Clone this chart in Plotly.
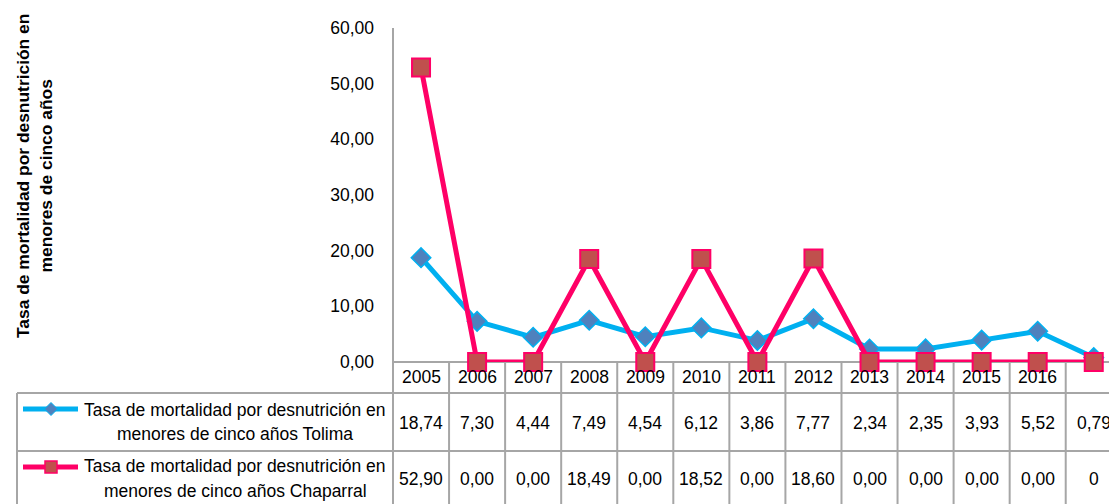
import plotly.graph_objects as go

# ---------------- data ----------------
years = ["2005", "2006", "2007", "2008", "2009", "2010", "2011", "2012",
         "2013", "2014", "2015", "2016", ""]
tolima = [18.74, 7.30, 4.44, 7.49, 4.54, 6.12, 3.86, 7.77, 2.34, 2.35, 3.93, 5.52, 0.79]
chaparral = [52.90, 0.00, 0.00, 18.49, 0.00, 18.52, 0.00, 18.60, 0.00, 0.00, 0.00, 0.00, 0]
series_names = [
    ["Tasa de mortalidad por desnutrición en", "menores de cinco años Tolima"],
    ["Tasa de mortalidad por desnutrición en", "menores de cinco años Chaparral"],
]
y_title = ["Tasa de mortalidad por desnutrición en", "menores de cinco años"]
y_ticks = [0, 10, 20, 30, 40, 50, 60]

# ---------------- geometry ----------------
FW, FH = 1109, 504
L, R, T, B = 393, 0, 28, 362          # plot area in px (B = bottom px)
W = FW - L - R
H = B - T
CW = 56.06                             # column width px
x_range = [-0.5, -0.5 + W / CW]

def xp(px):
    return (px - L) / W

def yp(py):
    return (B - py) / H

def col_edge(k):  # paper x of the left edge of column k
    return (k - 0.5 - x_range[0]) / (x_range[1] - x_range[0])

def fmt(v):
    if isinstance(v, int):
        return str(v)
    return f"{v:.2f}".replace(".", ",")

FONT = "Liberation Sans, Arial, sans-serif"
FS = 17.5
GRID = "#A6A6A6"
BLUE_L, BLUE_M = "#00B0F0", "#4F81BD"
PINK_L, PINK_M = "#FF0066", "#C0504D"

xs = list(range(len(years)))

fig = go.Figure()
fig.add_trace(go.Scatter(
    x=xs, y=tolima, mode="lines+markers", cliponaxis=False,
    line=dict(color=BLUE_L, width=5),
    marker=dict(symbol="diamond", size=15, color=BLUE_M, line=dict(color=BLUE_L, width=1.5)),
    showlegend=False))
fig.add_trace(go.Scatter(
    x=xs, y=chaparral, mode="lines+markers", cliponaxis=False,
    line=dict(color=PINK_L, width=5),
    marker=dict(symbol="square", size=18, color=PINK_M, line=dict(color=PINK_L, width=2)),
    showlegend=False))

shapes = []
def hline(py, x0px, x1px):
    shapes.append(dict(type="line", xref="paper", yref="paper",
                       x0=xp(x0px), x1=xp(x1px), y0=yp(py), y1=yp(py),
                       line=dict(color=GRID, width=2), layer="below"))
def vline_paper(xpaper, py0, py1):
    shapes.append(dict(type="line", xref="paper", yref="paper",
                       x0=xpaper, x1=xpaper, y0=yp(py0), y1=yp(py1),
                       line=dict(color=GRID, width=2), layer="below"))

# table grid
hline(B, L, FW)
hline(393, 17, FW)
hline(451, 17, FW)
vline_paper(xp(17), 393, FH + 2)
vline_paper(0, T, FH + 2)
for k in range(1, len(years)):
    vline_paper(col_edge(k), B, FH + 2)

annotations = []
# y-axis title
annotations.append(dict(xref="paper", yref="paper", x=xp(34), y=yp(176),
                        text="<br>".join(f"<b>{t}</b>" for t in y_title),
                        textangle=-90, showarrow=False,
                        font=dict(family=FONT, size=17.4, color="#000000"),
                        xanchor="center", yanchor="middle", align="center"))
# year row
for i, yr in enumerate(years):
    annotations.append(dict(xref="x", yref="paper", x=i, y=yp(377), text=yr,
                            showarrow=False, font=dict(family=FONT, size=FS, color="#000"),
                            xanchor="center", yanchor="middle"))
# value rows
for row_py, vals in [(423, tolima), (479, chaparral)]:
    for i, v in enumerate(vals):
        annotations.append(dict(xref="x", yref="paper", x=i, y=yp(row_py), text=fmt(v),
                                showarrow=False, font=dict(family=FONT, size=FS, color="#000"),
                                xanchor="center", yanchor="middle"))
# series labels in table
for (l1, l2), (p1, p2) in zip(series_names, [(410, 434), (466, 491)]):
    for txt, py in [(l1, p1), (l2, p2)]:
        annotations.append(dict(xref="paper", yref="paper", x=xp(235), y=yp(py), text=txt,
                                showarrow=False, font=dict(family=FONT, size=FS, color="#000"),
                                xanchor="center", yanchor="middle"))

# legend glyphs
for py, col in [(409, BLUE_L), (467, PINK_L)]:
    shapes.append(dict(type="line", xref="paper", yref="paper",
                       x0=xp(23), x1=xp(78), y0=yp(py), y1=yp(py),
                       line=dict(color=col, width=5)))
# diamond
cx, cy, r = 51, 409, 6.5
shapes.append(dict(type="path", xref="paper", yref="paper",
                   path=f"M {xp(cx-r)} {yp(cy)} L {xp(cx)} {yp(cy-r)} L {xp(cx+r)} {yp(cy)} L {xp(cx)} {yp(cy+r)} Z",
                   fillcolor=BLUE_M, line=dict(color=BLUE_L, width=1)))
# square
cx, cy, r = 51, 467, 6
shapes.append(dict(type="rect", xref="paper", yref="paper",
                   x0=xp(cx-r), x1=xp(cx+r), y0=yp(cy+r), y1=yp(cy-r),
                   fillcolor=PINK_M, line=dict(color=PINK_L, width=1.5)))

fig.update_layout(
    width=FW, height=FH,
    margin=dict(l=L, r=R, t=T, b=FH - B, pad=0),
    paper_bgcolor="white", plot_bgcolor="white",
    separators=",.",
    shapes=shapes, annotations=annotations,
    xaxis=dict(range=x_range, showgrid=False, zeroline=False, showline=False,
               showticklabels=False, ticks=""),
    yaxis=dict(range=[0, 60], tickvals=y_ticks, tickformat=".2f",
               showgrid=False, zeroline=False, showline=False, ticks="",
               ticklabelstandoff=18,
               tickfont=dict(family=FONT, size=FS, color="#000")),
)

fig.write_html("out.html",
               config={"displayModeBar": False},
               post_script="document.body.style.margin='0';document.body.style.padding='0';document.body.style.overflow='hidden';")
